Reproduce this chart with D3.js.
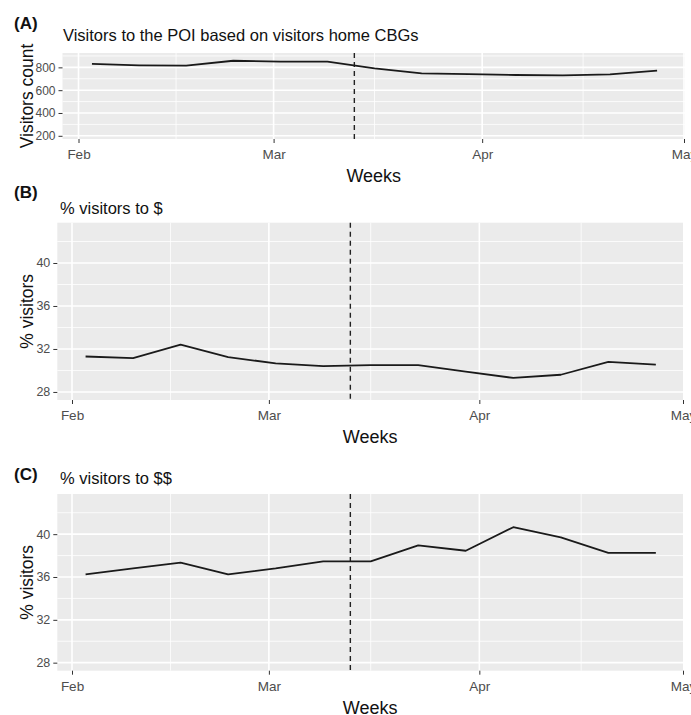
<!DOCTYPE html>
<html>
<head>
<meta charset="utf-8">
<script src="https://cdn.jsdelivr.net/npm/d3@7"></script>
<style>
    body { margin: 0; background: #fff; }
    svg { display: block; }
    text { font-family: "Liberation Sans", Arial, sans-serif; }
</style>
</head>
<body>
<div id="chart"></div>
<script>

// weekly dates (mondays of 2020)
const weeks = ["2020-02-03", "2020-02-10", "2020-02-17", "2020-02-24", "2020-03-02", "2020-03-09",
    "2020-03-16", "2020-03-23", "2020-03-30", "2020-04-06", "2020-04-13", "2020-04-20", "2020-04-27"];

// (A) visitors count
const visitorsCount = [830, 818, 815, 858, 850, 850, 792, 748, 740, 733, 730, 738, 772];

// (B) % visitors to $
const pctOneDollar = [31.3, 31.15, 32.4, 31.25, 30.65, 30.4, 30.5, 30.5, 29.9, 29.3, 29.6, 30.8, 30.55];

// (C) % visitors to $$
const pctTwoDollar = [36.25, 36.8, 37.35, 36.25, 36.8, 37.45, 37.45, 38.95, 38.45, 40.65, 39.7, 38.25, 38.25];

// axis breaks
const monthTicks = ["2020-02-01", "2020-03-01", "2020-04-01", "2020-05-01"];
const monthMinor = ["2020-02-15T12:00", "2020-03-16", "2020-04-16"];
const countTicks = [200, 400, 600, 800];
const countMinor = [300, 500, 700, 900];
const pctTicks = [28, 32, 36, 40];
const pctMinor = [30, 34, 38, 42];

// dashed marker date
const cutoffDate = "2020-03-13";

const parseDay = d3.isoParse;


class PanelVis {

    constructor(svg, config) {
        this.svg = svg;
        this.config = config;
        this.initVis();
    }

    initVis() {
        let vis = this;
        let c = vis.config;

        vis.x = d3.scaleTime()
            .domain([parseDay(monthTicks[0]), parseDay(monthTicks[3])])
            .range(c.xRange);

        vis.y = d3.scaleLinear()
            .domain(c.yDomain)
            .range([c.box.b, c.box.t]);

        vis.g = vis.svg.append("g");

        // panel background
        vis.g.append("rect")
            .attr("x", c.box.l)
            .attr("y", c.box.t)
            .attr("width", c.box.r - c.box.l)
            .attr("height", c.box.b - c.box.t)
            .attr("fill", "#ebebeb");

        // minor grid
        vis.g.selectAll(".minor-y")
            .data(c.yMinor.filter(d => d > c.yDomain[0] && d < c.yDomain[1]))
            .enter()
            .append("line")
            .attr("x1", c.box.l).attr("x2", c.box.r)
            .attr("y1", d => vis.y(d)).attr("y2", d => vis.y(d))
            .attr("stroke", "#fff").attr("stroke-width", 0.8);

        vis.g.selectAll(".minor-x")
            .data(monthMinor)
            .enter()
            .append("line")
            .attr("x1", d => vis.x(parseDay(d))).attr("x2", d => vis.x(parseDay(d)))
            .attr("y1", c.box.t).attr("y2", c.box.b)
            .attr("stroke", "#fff").attr("stroke-width", 0.8);

        // major grid
        vis.g.selectAll(".major-y")
            .data(c.yTicks)
            .enter()
            .append("line")
            .attr("x1", c.box.l).attr("x2", c.box.r)
            .attr("y1", d => vis.y(d)).attr("y2", d => vis.y(d))
            .attr("stroke", "#fff").attr("stroke-width", 1.6);

        vis.g.selectAll(".major-x")
            .data(monthTicks.filter(d => vis.x(parseDay(d)) < c.box.r))
            .enter()
            .append("line")
            .attr("x1", d => vis.x(parseDay(d))).attr("x2", d => vis.x(parseDay(d)))
            .attr("y1", c.box.t).attr("y2", c.box.b)
            .attr("stroke", "#fff").attr("stroke-width", 1.6);

        // axes
        let yAxis = d3.axisLeft(vis.y)
            .tickValues(c.yTicks)
            .tickSize(4)
            .tickPadding(3);

        vis.g.append("g")
            .attr("transform", "translate(" + c.box.l + ",0)")
            .call(yAxis)
            .call(g => g.select(".domain").remove())
            .call(g => g.selectAll("line").attr("stroke", "#333"))
            .call(g => g.selectAll("text")
                .attr("fill", "#4d4d4d")
                .style("font-size", c.yTickSize + "px")
                .style("font-family", "'Liberation Sans', Arial, sans-serif"));

        let xAxis = d3.axisBottom(vis.x)
            .tickValues(monthTicks.map(parseDay))
            .tickFormat(d3.timeFormat("%b"))
            .tickSize(4)
            .tickPadding(6);

        vis.g.append("g")
            .attr("transform", "translate(0," + c.box.b + ")")
            .call(xAxis)
            .call(g => g.select(".domain").remove())
            .call(g => g.selectAll("line").attr("stroke", "#333"))
            .call(g => g.selectAll("text")
                .attr("fill", "#4d4d4d")
                .attr("y", 20).attr("dy", null)
                .style("font-size", "13.5px")
                .style("font-family", "'Liberation Sans', Arial, sans-serif"));

        // cutoff line
        vis.g.append("line")
            .attr("x1", vis.x(parseDay(cutoffDate)))
            .attr("x2", vis.x(parseDay(cutoffDate)))
            .attr("y1", c.box.t)
            .attr("y2", c.box.b)
            .attr("stroke", "#222")
            .attr("stroke-width", 1.4)
            .attr("stroke-dasharray", "5,4");

        // series line
        vis.line = d3.line()
            .x((d, i) => vis.x(parseDay(weeks[i])))
            .y(d => vis.y(d));

        vis.g.append("path")
            .datum(c.values)
            .attr("d", vis.line)
            .attr("fill", "none")
            .attr("stroke", "#1a1a1a")
            .attr("stroke-width", 1.8)
            .attr("stroke-linejoin", "round");

        // labels
        vis.g.append("text")
            .attr("x", 14)
            .attr("y", c.tagY)
            .style("font-size", "17px")
            .style("font-weight", "bold")
            .attr("fill", "#111")
            .text(c.tag);

        vis.g.append("text")
            .attr("x", c.titleX)
            .attr("y", c.titleY)
            .style("font-size", "16.5px")
            .attr("fill", "#111")
            .text(c.title);

        vis.g.append("text")
            .attr("transform", "translate(33," + ((c.box.t + c.box.b) / 2) + ") rotate(-90)")
            .attr("text-anchor", "middle")
            .style("font-size", "17.5px")
            .attr("fill", "#111")
            .text(c.yTitle);

        vis.g.append("text")
            .attr("x", (c.box.l + c.box.r) / 2)
            .attr("y", c.box.b + 43)
            .attr("text-anchor", "middle")
            .style("font-size", "18px")
            .attr("fill", "#111")
            .text("Weeks");
    }
}


let svg = d3.select("#chart").append("svg")
    .attr("width", 691)
    .attr("height", 715);

let panels = [
    {
        tag: "(A)", tagY: 29,
        title: "Visitors to the POI based on visitors home CBGs", titleX: 63, titleY: 41,
        yTitle: "Visitors count",
        values: visitorsCount,
        yDomain: [172, 926], yTicks: countTicks, yMinor: countMinor, yTickSize: 12,
        box: {l: 62.5, r: 685, t: 53, b: 139},
        xRange: [78.5, 684]
    },
    {
        tag: "(B)", tagY: 198,
        title: "% visitors to $", titleX: 60, titleY: 214,
        yTitle: "% visitors",
        values: pctOneDollar,
        yDomain: [27.25, 43.75], yTicks: pctTicks, yMinor: pctMinor, yTickSize: 12.5,
        box: {l: 57.3, r: 683, t: 222.7, b: 400},
        xRange: [72, 683]
    },
    {
        tag: "(C)", tagY: 480,
        title: "% visitors to $$", titleX: 60, titleY: 484,
        yTitle: "% visitors",
        values: pctTwoDollar,
        yDomain: [27.25, 43.75], yTicks: pctTicks, yMinor: pctMinor, yTickSize: 12.5,
        box: {l: 57.3, r: 683, t: 494, b: 670.7},
        xRange: [72, 683]
    }
];

panels.forEach(p => new PanelVis(svg, p));

</script>
</body>
</html>
